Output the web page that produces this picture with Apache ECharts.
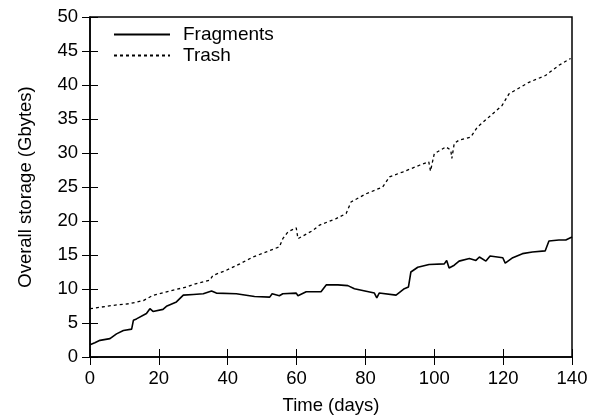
<!DOCTYPE html>
<html>
<head>
<meta charset="utf-8">
<script src="https://cdn.jsdelivr.net/npm/echarts@6/dist/echarts.min.js"></script>
<style>
html,body{margin:0;padding:0;background:#fff;}
#container{width:600px;height:417px;}
</style>
</head>
<body>
<div id="container"></div>
<script>
var xTicks = [0, 20, 40, 60, 80, 100, 120, 140];
var yTicks = [0, 5, 10, 15, 20, 25, 30, 35, 40, 45, 50];

var fragDays = [0, 1.4, 2.9, 5.8, 7.7, 9.7, 12.1, 12.6, 13.5, 16.4, 17.4, 18.3, 21.2, 22.2, 25.1, 27.1, 30, 32.9, 35.3, 36.7, 42.5, 47.8, 52.2, 52.9, 55, 56, 59.9, 60.4, 62.8, 67.1, 68.6, 72, 74.9, 76.8, 82.6, 83.3, 84, 88.9, 91.3, 92.5, 93.2, 95.2, 98.5, 102.9, 103.6, 104.3, 105.8, 107.2, 110.2, 112.1, 113.1, 115, 116.2, 119.9, 120.6, 122.8, 125.6, 128.5, 132.2, 133.3, 136.2, 138.2, 140];
var fragValues = [1.8, 2.1, 2.45, 2.7, 3.4, 3.9, 4.1, 5.4, 5.6, 6.4, 7.1, 6.7, 7.0, 7.45, 8.1, 9.1, 9.2, 9.3, 9.7, 9.4, 9.3, 8.9, 8.8, 9.3, 9.0, 9.3, 9.4, 9.0, 9.6, 9.6, 10.6, 10.6, 10.5, 10.05, 9.4, 8.7, 9.4, 9.1, 10.05, 10.3, 12.5, 13.2, 13.6, 13.7, 14.2, 13.1, 13.5, 14.1, 14.5, 14.2, 14.7, 14.1, 14.85, 14.6, 13.8, 14.6, 15.2, 15.45, 15.6, 17.06, 17.2, 17.2, 17.65];

var trashDays = [0, 6.8, 11.6, 15.5, 18.3, 23.2, 28, 30.9, 34.8, 35.7, 39.6, 43.5, 47.3, 51.2, 55, 56, 57.5, 59.9, 60.4, 64.7, 66.7, 71.5, 74.4, 75.8, 80.2, 85, 87, 90.8, 95.7, 98.4, 98.9, 100, 103.4, 104.8, 105.1, 105.8, 107.2, 110.6, 112.5, 115.9, 119.7, 121.7, 127.5, 132.3, 136.2, 139.6];
var trashValues = [7.1, 7.6, 7.85, 8.3, 9.07, 9.7, 10.3, 10.8, 11.3, 12.0, 12.75, 13.7, 14.7, 15.45, 16.2, 17.4, 18.4, 19.0, 17.4, 18.6, 19.4, 20.35, 21.1, 22.8, 24.0, 25.0, 26.5, 27.2, 28.2, 28.7, 27.35, 29.9, 30.9, 30.4, 29.2, 31.4, 31.9, 32.35, 33.8, 35.3, 37.0, 38.7, 40.4, 41.4, 42.9, 43.9];

function pairs(xs, ys) {
	var out = [];
	for (var i = 0; i < xs.length; i++) {
		out.push([xs[i], ys[i]]);
	}
	return out;
}

var fontName = 'Liberation Sans';
var fontSize = 18.5;
var myChart = echarts.init(document.getElementById('container'));

var tickStyle = { inside: true, length: 8, lineStyle: { color: '#000', width: 1 } };
var option = {
	animation: false,
	backgroundColor: '#fff',
	grid: { left: 90, right: 28, top: 17, bottom: 60, outerBoundsMode: 'none', show: true, borderColor: '#000', borderWidth: 1.5 },
	legend: {
		orient: 'vertical',
		left: 108,
		top: 20,
		itemWidth: 56,
		itemHeight: 14,
		itemGap: 2,
		itemStyle: { opacity: 0 },
		textStyle: { fontFamily: fontName, fontSize: 19, lineHeight: 19, color: '#000', padding: [0, 0, 0, 8] },
		data: ['Fragments', 'Trash']
	},
	xAxis: [{
		type: 'value',
		min: 0, max: 140, interval: 20,
		name: 'Time (days)',
		nameLocation: 'middle',
		nameGap: 39,
		nameTextStyle: { fontFamily: fontName, fontSize: fontSize, color: '#000' },
		axisLine: { show: true, lineStyle: { color: '#000', width: 1.5 } },
		axisTick: tickStyle,
		axisLabel: { fontFamily: fontName, fontSize: fontSize, color: '#000', margin: 12 },
		splitLine: { show: false }
	}, {
		type: 'value', position: 'top',
		min: 0, max: 140, interval: 20,
		axisLine: { show: false },
		axisTick: tickStyle,
		axisLabel: { show: false },
		splitLine: { show: false }
	}],
	yAxis: [{
		type: 'value',
		min: 0, max: 50, interval: 5,
		name: 'Overall storage (Gbytes)',
		nameLocation: 'middle',
		nameGap: 55,
		nameTextStyle: { fontFamily: fontName, fontSize: fontSize, color: '#000' },
		axisLine: { show: true, lineStyle: { color: '#000', width: 1.5 } },
		axisTick: tickStyle,
		axisLabel: { fontFamily: fontName, fontSize: fontSize, color: '#000', margin: 12 },
		splitLine: { show: false }
	}, {
		type: 'value', position: 'right',
		min: 0, max: 50, interval: 5,
		axisLine: { show: false },
		axisTick: tickStyle,
		axisLabel: { show: false },
		splitLine: { show: false }
	}],
	series: [{
		name: 'Fragments',
		type: 'line',
		showSymbol: false,
		symbol: 'none',
		color: '#000',
		lineStyle: { color: '#000', width: 1.6 },
		data: pairs(fragDays, fragValues)
	}, {
		name: 'Trash',
		type: 'line',
		showSymbol: false,
		symbol: 'none',
		color: '#000',
		lineStyle: { color: '#000', width: 1.3, type: [3, 3] },
		data: pairs(trashDays, trashValues)
	}]
};
myChart.setOption(option, true);
</script>
</body>
</html>
